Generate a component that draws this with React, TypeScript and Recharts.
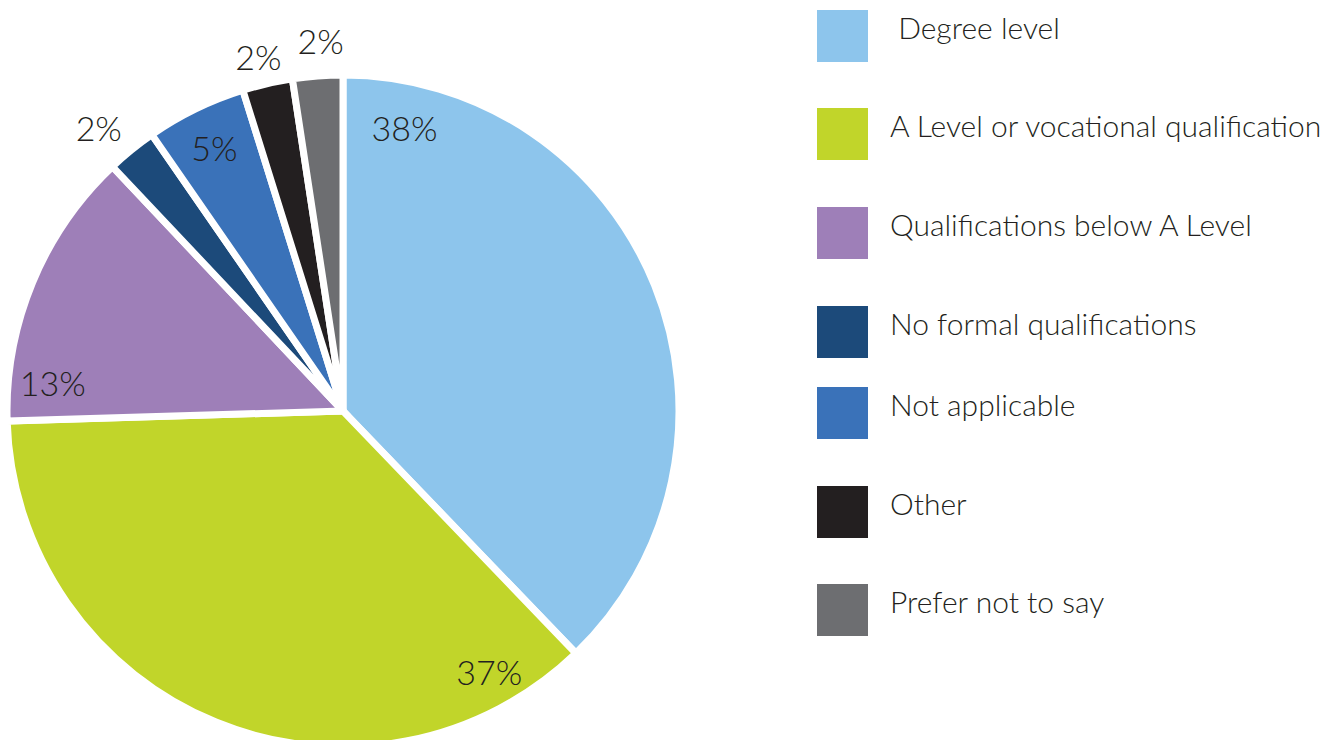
import React from 'react';
import { PieChart, Pie, Cell, Legend } from 'recharts';

const categories = [
    ' Degree level',
    'A Level or vocational qualification',
    'Qualifications below A Level',
    'No formal qualifications',
    'Not applicable',
    'Other',
    'Prefer not to say',
];
const shares = [37.7, 36.6, 13.4, 2.4, 4.8, 2.4, 2.4];
const colors = ['#8DC5EC', '#C1D52A', '#9E7FB8', '#1C4A7A', '#3A72B9', '#231F20', '#6D6E71'];

const data = categories.map((name, i) => ({ name, value: shares[i] }));

const CX = 343;
const CY = 411;
const R = 336;
const FONT = 'Lato, "Open Sans", sans-serif';
const INK = '#231F20';

// where each % label sits: fraction along the slice, radius factor
const labelSpot = [
    [0.09, 0.862],
    [0.11, 0.889],
    [0.15, 0.868],
    [0.3, 1.114],
    [0.5, 0.874],
    [0.45, 1.084],
    [0.6, 1.105],
];
// legend rows are not evenly spaced in the original
const legendTops = [10, 108, 207, 306, 387, 486, 584];

const total = shares.reduce((a, b) => a + b, 0);

const renderLabel = (props: any) => {
    const { index } = props;
    const before = shares.slice(0, index).reduce((a, b) => a + b, 0);
    const start = (before / total) * 360;
    const span = (shares[index] / total) * 360;
    const [frac, rf] = labelSpot[index];
    const theta = ((start + span * frac) * Math.PI) / 180;
    const r = R * rf;
    const x = CX + r * Math.sin(theta);
    const y = CY - r * Math.cos(theta);
    return (
        <text
            key={`lbl-${index}`}
            x={x}
            y={y}
            fill={INK}
            textAnchor="middle"
            dominantBaseline="central"
            fontFamily={FONT}
            fontWeight={300}
            fontSize={34}
        >
            {`${Math.round(shares[index])}%`}
        </text>
    );
};

const renderLegend = () => (
    <div style={{ position: 'relative', width: 514, height: 740 }}>
        {categories.map((name, i) => (
            <div key={name} style={{ position: 'absolute', left: 0, top: legendTops[i], height: 52, display: 'flex', alignItems: 'center' }}>
                <div style={{ width: 51, height: 52, background: colors[i] }} />
                <span
                    style={{
                        marginLeft: 22,
                        position: 'relative',
                        top: -9,
                        fontFamily: FONT,
                        fontWeight: 300,
                        fontSize: 30,
                        color: INK,
                        whiteSpace: 'pre',
                    }}
                >
                    {name}
                </span>
            </div>
        ))}
    </div>
);

export default function App() {
    return (
        <div style={{ position: 'absolute', left: 0, top: 0, width: 1331, height: 740, background: '#fff' }}>
            <PieChart width={1331} height={740} margin={{ top: 0, right: 0, bottom: 0, left: 0 }}>
                <Pie
                    data={data}
                    dataKey="value"
                    nameKey="name"
                    cx={CX}
                    cy={CY}
                    outerRadius={R}
                    startAngle={90}
                    endAngle={-270}
                    stroke="#fff"
                    strokeWidth={7}
                    label={renderLabel}
                    labelLine={false}
                    isAnimationActive={false}
                >
                    {data.map((d, i) => (
                        <Cell key={d.name} fill={colors[i]} />
                    ))}
                </Pie>
                <Legend
                    layout="vertical"
                    align="right"
                    verticalAlign="top"
                    content={renderLegend}
                    wrapperStyle={{ position: 'absolute', left: 817, top: 0, width: 514, height: 740 }}
                />
            </PieChart>
        </div>
    );
}
